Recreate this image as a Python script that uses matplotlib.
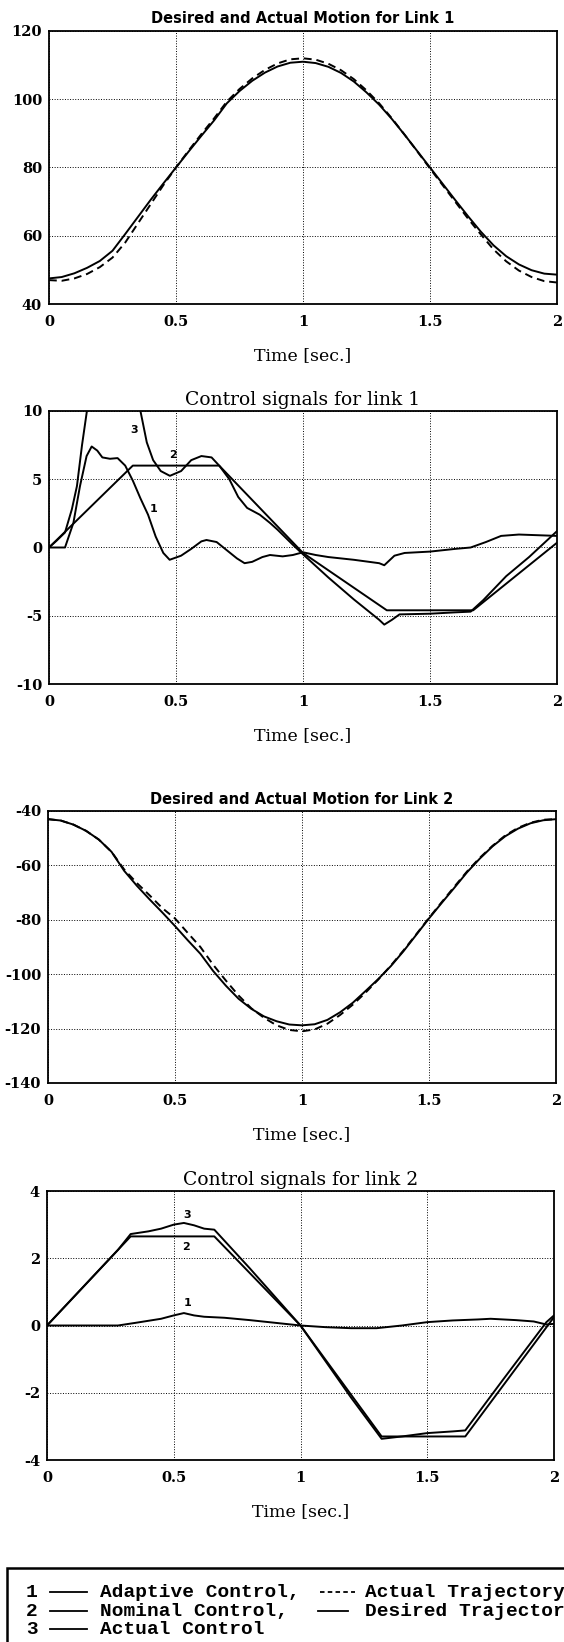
import matplotlib
matplotlib.use("Agg")
import matplotlib.pyplot as plt
from matplotlib.lines import Line2D
from matplotlib.patches import Rectangle

plt.rcParams['axes.unicode_minus'] = False

# ---- data ----
t05 = [i * 0.05 for i in range(41)]

link1_desired = [47.5, 47.9, 49.0, 50.6, 52.6, 55.6, 60.5, 65.5, 70.5, 75.3,
                 80.0, 84.7, 89.3, 93.8, 98.8, 102.4, 105.4, 107.8, 109.6, 110.7,
                 111.0, 110.6, 109.5, 107.7, 105.2, 102.0, 98.4, 94.2, 89.6, 84.8,
                 80.0, 75.2, 70.4, 65.7, 61.2, 57.2, 54.0, 51.6, 49.9, 48.9, 48.6]
link1_actual = [47.0, 46.8, 47.5, 48.8, 50.8, 53.6, 58.0, 63.6, 69.2, 74.8,
                80.0, 85.0, 89.8, 94.4, 99.3, 103.0, 106.1, 108.6, 110.5, 111.7,
                112.0, 111.6, 110.4, 108.5, 105.9, 102.6, 98.8, 94.4, 89.6, 84.7,
                79.7, 74.8, 69.9, 65.0, 60.4, 56.0, 52.5, 49.8, 47.9, 46.7, 46.3]

link2_desired = [-43.0, -43.5, -45.0, -47.3, -50.5, -55.0, -62.0, -67.5, -72.5, -77.3,
                 -82.3, -87.5, -92.5, -98.8, -104.2, -109.0, -112.7, -115.5, -117.3, -118.5,
                 -118.8, -118.4, -116.8, -114.0, -110.5, -106.2, -101.8, -97.0, -91.5, -85.5,
                 -79.5, -73.8, -68.2, -62.5, -57.5, -53.0, -49.3, -46.5, -44.5, -43.4, -43.0]
link2_actual = [-43.0, -43.5, -45.0, -47.3, -50.5, -55.0, -61.5, -66.5, -71.0, -75.7,
                -79.5, -84.8, -90.0, -96.5, -102.3, -107.8, -112.5, -116.0, -118.8, -120.5,
                -121.0, -120.3, -118.2, -115.0, -111.2, -106.8, -102.0, -96.8, -91.2, -85.3,
                -79.3, -73.5, -67.8, -62.2, -57.2, -52.8, -49.0, -46.2, -44.3, -43.2, -43.0]

# control signals, link 1
u1_nom_t = [0, 0.33, 0.67, 1.0, 1.33, 1.67, 2.0]
u1_nom = [0, 6.0, 6.0, -0.4, -4.6, -4.6, 0.35]

u1_adp_t = [0, 0.063, 0.096, 0.122, 0.148, 0.168, 0.19, 0.21, 0.24, 0.27, 0.30, 0.33,
            0.36, 0.39, 0.42, 0.45, 0.475, 0.52, 0.56, 0.60, 0.62, 0.66, 0.70, 0.74,
            0.77, 0.80, 0.84, 0.87, 0.92, 0.96, 1.0, 1.05, 1.1, 1.2, 1.3, 1.32, 1.36,
            1.4, 1.5, 1.6, 1.66, 1.72, 1.78, 1.85, 2.0]
u1_adp = [0, 0, 1.8, 4.5, 6.7, 7.4, 7.1, 6.6, 6.5, 6.55, 6.0, 4.9,
          3.6, 2.4, 0.8, -0.4, -0.9, -0.6, -0.1, 0.45, 0.55, 0.4, -0.2, -0.8,
          -1.15, -1.05, -0.7, -0.55, -0.65, -0.55, -0.35, -0.55, -0.7, -0.9, -1.15, -1.3, -0.6,
          -0.4, -0.3, -0.1, 0.0, 0.4, 0.85, 0.95, 0.85]

u1_act_t = [0, 0.03, 0.063, 0.09, 0.11, 0.13, 0.15, 0.2, 0.25, 0.3, 0.33, 0.36,
            0.385, 0.41, 0.44, 0.476, 0.52, 0.56, 0.6, 0.64, 0.67, 0.71, 0.745, 0.78,
            0.83, 0.87, 0.9, 0.96, 1.0, 1.1, 1.2, 1.3, 1.32, 1.35, 1.38, 1.5, 1.6,
            1.66, 1.71, 1.8, 1.89, 2.0]
u1_act = [0, 0.5, 1.1, 2.8, 4.5, 7.5, 10.1, 10.8, 11.2, 11.4, 10.9, 10.0,
          7.7, 6.4, 5.6, 5.25, 5.6, 6.4, 6.7, 6.6, 6.0, 5.0, 3.7, 2.9,
          2.4, 1.8, 1.3, 0.2, -0.5, -2.2, -3.8, -5.3, -5.65, -5.3, -4.9, -4.85, -4.75,
          -4.7, -3.85, -2.1, -0.7, 1.2]

# control signals, link 2
u2_nom_t = [0, 0.33, 0.66, 1.0, 1.32, 1.65, 2.0]
u2_nom = [0, 2.65, 2.65, 0, -3.3, -3.3, 0.25]

u2_adp_t = [0, 0.28, 0.35, 0.45, 0.5, 0.54, 0.58, 0.62, 0.7, 0.8, 0.9, 1.0,
            1.1, 1.2, 1.3, 1.4, 1.5, 1.6, 1.7, 1.75, 1.85, 1.92, 1.97, 2.0]
u2_adp = [0, 0, 0.08, 0.2, 0.3, 0.37, 0.3, 0.26, 0.23, 0.16, 0.08, 0.0,
          -0.05, -0.08, -0.08, 0.0, 0.1, 0.15, 0.18, 0.2, 0.16, 0.12, 0.03, 0.05]

u2_act_t = [0, 0.28, 0.33, 0.4, 0.45, 0.5, 0.54, 0.58, 0.62, 0.66, 0.8, 1.0,
            1.2, 1.32, 1.4, 1.5, 1.6, 1.65, 1.8, 1.9, 1.97, 2.0]
u2_act = [0, 2.25, 2.72, 2.8, 2.88, 3.0, 3.05, 2.98, 2.88, 2.85, 1.7, 0.0,
          -2.15, -3.37, -3.3, -3.2, -3.15, -3.12, -1.6, -0.6, 0.1, 0.3]

xticks = [0, 0.5, 1, 1.5, 2]
xticklabels = ['0', '0.5', '1', '1.5', '2']

# ---- figure ----
W, H = 564, 1642
fig = plt.figure(figsize=(W / 100, H / 100), dpi=100)


def add_ax(l, t, r, b):
    return fig.add_axes([l / W, 1 - b / H, (r - l) / W, (b - t) / H])


tick_font = dict(family='DejaVu Serif', size=10.5, weight='bold')


def style(ax, ylim, yticks, title, title_font, title_pad):
    ax.set_xlim(0, 2)
    ax.set_ylim(*ylim)
    ax.set_xticks(xticks)
    ax.set_xticklabels(xticklabels, **tick_font)
    ax.set_yticks(yticks)
    ax.set_yticklabels([str(v) for v in yticks], **tick_font)
    ax.tick_params(length=0)
    ax.tick_params(axis='x', pad=8)
    ax.tick_params(axis='y', pad=5)
    ax.grid(True, linestyle=':', color='k', linewidth=0.7)
    for s in ax.spines.values():
        s.set_linewidth(1.3)
    ax.set_title(title, pad=title_pad, **title_font)
    ax.set_xlabel('Time [sec.]', family='DejaVu Serif', size=12.5, labelpad=13)


dot_title = dict(family='DejaVu Sans', weight='bold', size=10.5)
serif_title = dict(family='DejaVu Serif', size=13.5)
lw = 1.4

# plot 1
ax1 = add_ax(49, 31, 557, 304)
ax1.plot(t05, link1_desired, color='k', lw=lw)
ax1.plot(t05, link1_actual, color='k', lw=lw, ls=(0, (4, 2.5)))
style(ax1, (40, 120), [40, 60, 80, 100, 120], 'Desired and Actual Motion for Link 1', dot_title, 6)

# plot 2
ax2 = add_ax(49, 411, 557, 684)
ax2.plot(u1_adp_t, u1_adp, color='k', lw=lw)
ax2.plot(u1_nom_t, u1_nom, color='k', lw=lw)
ax2.plot(u1_act_t, u1_act, color='k', lw=lw)
style(ax2, (-10, 10), [-10, -5, 0, 5, 10], 'Control signals for link 1', serif_title, 4)
for lab, x, y in [('3', 0.335, 8.6), ('2', 0.49, 6.8), ('1', 0.41, 2.8)]:
    ax2.text(x, y, lab, ha='center', va='center', family='DejaVu Sans', weight='bold', size=8)

# plot 3
ax3 = add_ax(48, 811, 556, 1083)
ax3.plot(t05, link2_desired, color='k', lw=lw)
ax3.plot(t05, link2_actual, color='k', lw=lw, ls=(0, (4, 2.5)))
style(ax3, (-140, -40), [-140, -120, -100, -80, -60, -40],
      'Desired and Actual Motion for Link 2', dot_title, 5)

# plot 4
ax4 = add_ax(47, 1191, 554, 1460)
ax4.plot(u2_adp_t, u2_adp, color='k', lw=lw)
ax4.plot(u2_nom_t, u2_nom, color='k', lw=lw)
ax4.plot(u2_act_t, u2_act, color='k', lw=lw)
style(ax4, (-4, 4), [-4, -2, 0, 2, 4], 'Control signals for link 2', serif_title, 4)
for lab, x, y in [('3', 0.551, 3.28), ('2', 0.548, 2.32), ('1', 0.554, 0.66)]:
    ax4.text(x, y, lab, ha='center', va='center', family='DejaVu Sans', weight='bold', size=8)

# ---- legend box at the bottom ----
def fx(px):
    return px / W


def fy(py):
    return 1 - py / H


fig.patches.append(Rectangle((fx(7), fy(1660)), fx(600) - fx(7), fy(1568) - fy(1660),
                             transform=fig.transFigure, fill=False, ec='k', lw=1.8))

mono = dict(family='Liberation Mono', size=14, weight='bold', va='center')
rows = [1592, 1611, 1629]
names = ['Adaptive Control,', 'Nominal Control,', 'Actual Control']
for i, (y, name) in enumerate(zip(rows, names)):
    fig.text(fx(26), fy(y), str(i + 1), **mono)
    fig.lines.append(Line2D([fx(50), fx(87)], [fy(y), fy(y)], transform=fig.transFigure,
                            color='k', lw=1.3))
    fig.text(fx(100), fy(y), name, **mono)

fig.lines.append(Line2D([fx(320), fx(355)], [fy(rows[0]), fy(rows[0])], transform=fig.transFigure,
                        color='k', lw=1.3, ls=(0, (2.5, 1.8))))
fig.text(fx(365), fy(rows[0]), 'Actual Trajectory', **mono)
fig.lines.append(Line2D([fx(318), fx(348)], [fy(rows[1]), fy(rows[1])], transform=fig.transFigure,
                        color='k', lw=1.3))
fig.text(fx(365), fy(rows[1]), 'Desired Trajectory', **mono)

fig.savefig('out.png', dpi=100)
